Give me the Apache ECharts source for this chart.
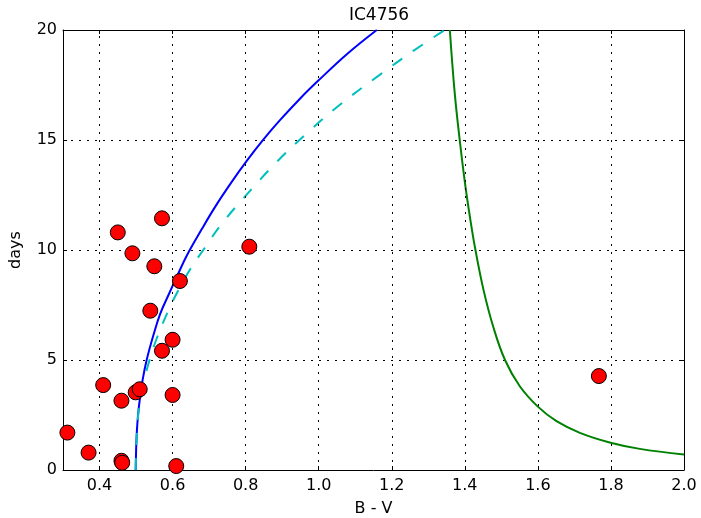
<!DOCTYPE html>
<html>
<head>
<meta charset="utf-8">
<script src="https://cdn.jsdelivr.net/npm/echarts@6/dist/echarts.min.js"></script>
<style>
  html, body { margin: 0; padding: 0; background: #fff; overflow: hidden; }
  #chart { width: 701px; height: 518px; }
</style>
</head>
<body>
<div id="chart"></div>
<script>
// Tick positions
const xTicks = [0.4, 0.6, 0.8, 1.0, 1.2, 1.4, 1.6, 1.8, 2.0];
const yTicks = [0, 5, 10, 15, 20];

// Measured stars: colour index B - V and rotation period (days)
const starBV = [0.312, 0.370, 0.410, 0.450, 0.460, 0.460, 0.462, 0.490, 0.499, 0.510,
                0.539, 0.550, 0.571, 0.571, 0.600, 0.600, 0.610, 0.620, 0.810, 1.767];
const starDays = [1.70, 0.79, 3.86, 10.80, 3.15, 0.42, 0.33, 9.85, 3.53, 3.67,
                  7.24, 9.26, 11.44, 5.42, 5.92, 3.41, 0.18, 8.59, 10.15, 4.27];

// Gyrochronology isochrone (solid blue)
const blueBV   = [0.499, 0.500, 0.502, 0.506, 0.511, 0.518, 0.529, 0.547, 0.566, 0.590,
                  0.612, 0.639, 0.680, 0.716, 0.760, 0.803, 0.850, 0.894, 0.950, 0.999,
                  1.077, 1.159];
const blueDays = [0.0, 0.8, 1.7, 2.6, 3.3, 4.1, 5.0, 6.1, 7.1, 8.0,
                  8.8, 9.75, 10.95, 11.95, 13.05, 14.05, 15.05, 15.9, 16.9, 17.7,
                  18.9, 20.0];

// Second isochrone (dashed cyan)
const cyanBV   = [0.499, 0.501, 0.504, 0.508, 0.514, 0.522, 0.537, 0.557, 0.589, 0.616,
                  0.647, 0.684, 0.735, 0.794, 0.885, 0.967, 1.058, 1.166, 1.259, 1.345];
const cyanDays = [0.0, 1.2, 2.1, 2.88, 3.5, 4.09, 5.0, 6.0, 7.27, 8.18,
                  9.09, 10.0, 11.2, 12.35, 14.0, 15.3, 16.6, 17.95, 19.05, 20.0];

// Red-side boundary curve (green)
const greenBV   = [1.359, 1.372, 1.386, 1.400, 1.414, 1.428, 1.451, 1.478, 1.510, 1.550,
                   1.600, 1.651, 1.715, 1.799, 1.879, 2.0];
const greenDays = [20.0, 17.2, 15.0, 13.1, 11.5, 10.1, 8.2, 6.5, 5.0, 3.82,
                   2.88, 2.22, 1.69, 1.24, 0.96, 0.70];

const zip = (xs, ys) => xs.map((x, i) => [x, ys[i]]);

const FONT = 'DejaVu Sans';
const gridDot = { color: '#000', width: 1, type: [2, 6] };

const chart = echarts.init(document.getElementById('chart'), null, { renderer: 'canvas' });

const baseX = {
  type: 'value', min: 0.3, max: 2.0,
  axisLine: { show: true, onZero: false, lineStyle: { color: '#000', width: 1 } },
  axisTick: { show: true, inside: true, length: 4, customValues: xTicks, lineStyle: { color: '#000' } },
  splitLine: { show: false }
};
const baseY = {
  type: 'value', min: 0, max: 20, interval: 5,
  axisLine: { show: true, onZero: false, lineStyle: { color: '#000', width: 1 } },
  axisTick: { show: true, inside: true, length: 4, lineStyle: { color: '#000' } }
};

chart.setOption({
  animation: false,
  backgroundColor: '#fff',
  title: {
    text: 'IC4756', left: 374, top: 2, textAlign: 'center',
    textStyle: { fontFamily: FONT, fontSize: 17, fontWeight: 'normal', color: '#000' }
  },
  grid: {
    left: 63, right: 17, top: 30, bottom: 48,
    containLabel: false, outerBoundsMode: 'none'
  },
  xAxis: [
    Object.assign({}, baseX, {
      position: 'bottom',
      name: 'B - V', nameLocation: 'middle', nameGap: 31,
      nameTextStyle: { fontFamily: FONT, fontSize: 16, color: '#000' },
      axisLabel: {
        show: true, customValues: xTicks, margin: 8,
        fontFamily: FONT, fontSize: 16, color: '#000',
        formatter: v => v.toFixed(1)
      }
    }),
    Object.assign({}, baseX, { position: 'top', axisLabel: { show: false } })
  ],
  yAxis: [
    Object.assign({}, baseY, {
      position: 'left',
      name: 'days', nameLocation: 'middle', nameGap: 39, nameRotate: 90,
      nameTextStyle: { fontFamily: FONT, fontSize: 16, color: '#000' },
      axisLabel: { show: true, margin: 6, fontFamily: FONT, fontSize: 16, color: '#000' },
      splitLine: { show: true, lineStyle: gridDot }
    }),
    Object.assign({}, baseY, {
      position: 'right',
      axisLabel: { show: false },
      splitLine: { show: false }
    })
  ],
  series: [
    {
      // vertical dotted grid lines at the labelled ticks
      type: 'line', data: [], silent: true, z: 1,
      markLine: {
        silent: true, symbol: 'none', animation: false,
        label: { show: false },
        lineStyle: gridDot,
        data: xTicks.map(v => ({ xAxis: v }))
      }
    },
    {
      type: 'line', data: zip(blueBV, blueDays), smooth: 0.4,
      showSymbol: false, symbol: 'none', z: 3,
      lineStyle: { color: '#0000ff', width: 2 }
    },
    {
      type: 'line', data: zip(cyanBV, cyanDays), smooth: 0.4,
      showSymbol: false, symbol: 'none', z: 3,
      lineStyle: { color: '#00bfbf', width: 2, type: [12, 13] }
    },
    {
      type: 'line', data: zip(greenBV, greenDays), smooth: 0.4,
      showSymbol: false, symbol: 'none', z: 3,
      lineStyle: { color: '#008000', width: 2 }
    },
    {
      type: 'scatter', data: zip(starBV, starDays), symbol: 'circle', symbolSize: 15, z: 5,
      itemStyle: { color: '#ff0000', borderColor: '#000', borderWidth: 1, opacity: 1 }
    }
  ]
});
</script>
</body>
</html>
